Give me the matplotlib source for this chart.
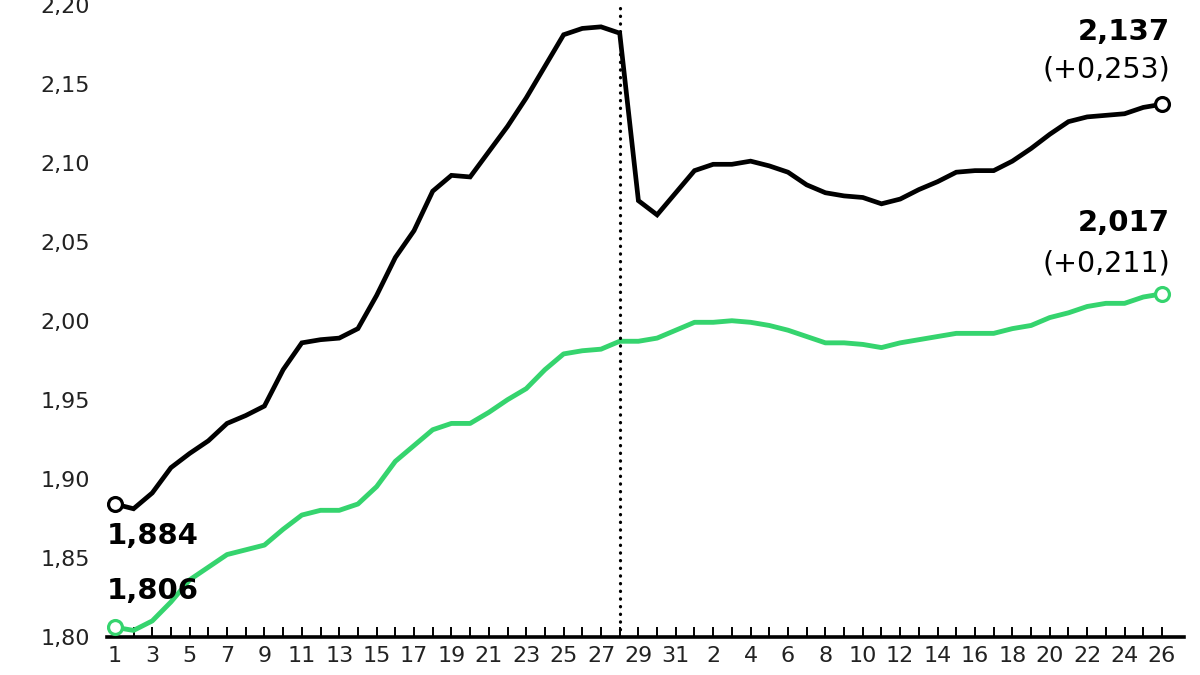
import matplotlib
matplotlib.use("Agg")
import matplotlib.pyplot as plt
from matplotlib.ticker import FuncFormatter

# ---- data ----
month1_days = list(range(1, 32))
month2_days = list(range(1, 27))
day_labels = month1_days + month2_days

black_values = [
    1.884, 1.881, 1.891, 1.907, 1.916, 1.924, 1.935, 1.940, 1.946, 1.969,
    1.986, 1.988, 1.989, 1.995, 2.016, 2.040, 2.057, 2.082, 2.092, 2.091,
    2.107, 2.123, 2.141, 2.161, 2.181, 2.185, 2.186, 2.182, 2.076, 2.067,
    2.081, 2.095, 2.099, 2.099, 2.101, 2.098, 2.094, 2.086, 2.081, 2.079,
    2.078, 2.074, 2.077, 2.083, 2.088, 2.094, 2.095, 2.095, 2.101, 2.109,
    2.118, 2.126, 2.129, 2.130, 2.131, 2.135, 2.137,
]
green_values = [
    1.806, 1.804, 1.810, 1.822, 1.836, 1.844, 1.852, 1.855, 1.858, 1.868,
    1.877, 1.880, 1.880, 1.884, 1.895, 1.911, 1.921, 1.931, 1.935, 1.935,
    1.942, 1.950, 1.957, 1.969, 1.979, 1.981, 1.982, 1.987, 1.987, 1.989,
    1.994, 1.999, 1.999, 2.000, 1.999, 1.997, 1.994, 1.990, 1.986, 1.986,
    1.985, 1.983, 1.986, 1.988, 1.990, 1.992, 1.992, 1.992, 1.995, 1.997,
    2.002, 2.005, 2.009, 2.011, 2.011, 2.015, 2.017,
]
black_start_label = "1,884"
green_start_label = "1,806"
black_end_label = "2,137"
black_change_label = "(+0,253)"
green_end_label = "2,017"
green_change_label = "(+0,211)"
y_ticks = [1.80, 1.85, 1.90, 1.95, 2.00, 2.05, 2.10, 2.15, 2.20]
divider_index = 27  # day 28 of first month

BLACK = "#000000"
GREEN = "#35d46e"

plt.rcParams['font.family'] = ['DejaVu Sans']

fig = plt.figure(figsize=(12, 6.75), dpi=100)
ax = fig.add_axes([0.089, 0.0567, 0.898, 0.9363])

x = list(range(len(day_labels)))

ax.plot(x, black_values, color=BLACK, lw=3.4, solid_joinstyle='miter', zorder=3)
ax.plot(x, green_values, color=GREEN, lw=3.5, solid_joinstyle='round', zorder=3)

for series, col in ((black_values, BLACK), (green_values, GREEN)):
    ax.plot([x[0], x[-1]], [series[0], series[-1]], linestyle='none', marker='o',
            markersize=10, markerfacecolor='white', markeredgecolor=col,
            markeredgewidth=2.3, zorder=5)

ax.axvline(divider_index, color=BLACK, lw=2.3, linestyle=(0, (0.1, 2.3)),
           dash_capstyle='round', zorder=4)

ax.set_xlim(-0.43, 57.2)
ax.set_ylim(1.80, 2.20)

ax.set_xticks(x)
ax.set_xticklabels([str(d) if i % 2 == 0 else "" for i, d in enumerate(day_labels)])
ax.set_yticks(y_ticks)
ax.yaxis.set_major_formatter(FuncFormatter(lambda v, p: f"{v:.2f}".replace('.', ',')))

ax.tick_params(axis='x', direction='in', length=7, width=1.4, color=BLACK,
               labelsize=16, pad=7, labelcolor='#222222')
ax.tick_params(axis='y', length=0, labelsize=16, pad=12, labelcolor='#222222')

for s in ('top', 'right', 'left'):
    ax.spines[s].set_visible(False)
ax.spines['bottom'].set_linewidth(2.6)
ax.spines['bottom'].set_color(BLACK)

bold = dict(fontsize=21, fontweight='bold', color=BLACK)
reg = dict(fontsize=20.5, color=BLACK)

ax.annotate(black_start_label, (x[0], black_values[0]), xytext=(-6, -23),
            textcoords='offset points', ha='left', va='center', **bold)
ax.annotate(green_start_label, (x[0], green_values[0]), xytext=(-6, 26),
            textcoords='offset points', ha='left', va='center', **bold)

ax.annotate(black_end_label, (x[-1], black_values[-1]), xytext=(6, 52),
            textcoords='offset points', ha='right', va='center', **bold)
ax.annotate(black_change_label, (x[-1], black_values[-1]), xytext=(6, 25),
            textcoords='offset points', ha='right', va='center', **reg)
ax.annotate(green_end_label, (x[-1], green_values[-1]), xytext=(6, 51),
            textcoords='offset points', ha='right', va='center', **bold)
ax.annotate(green_change_label, (x[-1], green_values[-1]), xytext=(6, 22),
            textcoords='offset points', ha='right', va='center', **reg)

fig.savefig("out.png", dpi=100)
